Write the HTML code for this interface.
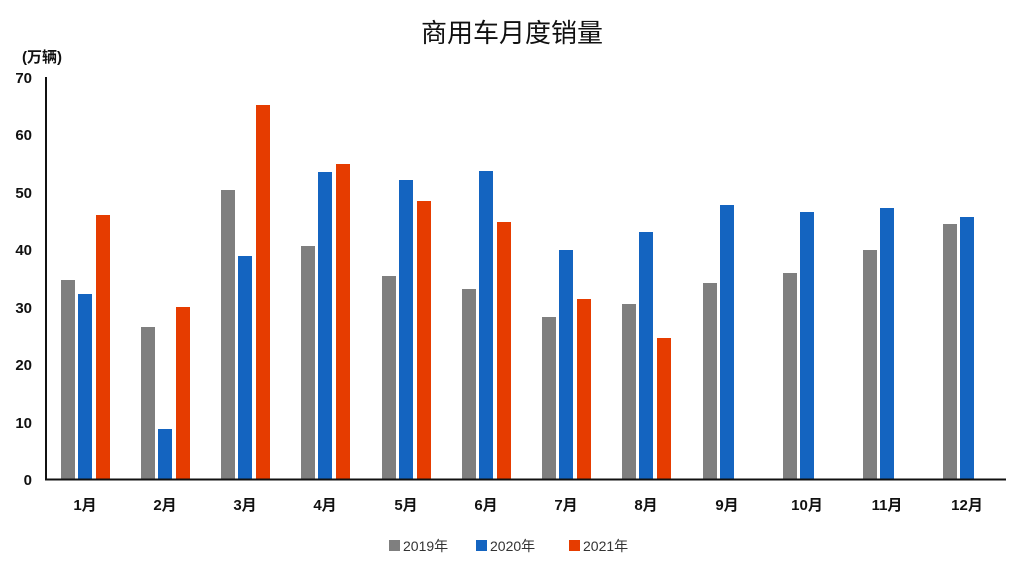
<!DOCTYPE html>
<html><head><meta charset="utf-8"><style>
body{margin:0;background:#fff;}
svg{display:block;font-family:"Liberation Sans","Noto Sans CJK SC",sans-serif;}
</style></head><body>
<svg width="1024" height="565" viewBox="0 0 1024 565">
<rect width="1024" height="565" fill="#fff"/>
<text x="512" y="42" font-size="26" text-anchor="middle" fill="#111">商用车月度销量</text>
<text x="22" y="62" font-size="15" font-weight="bold" fill="#111">(万辆)</text>
<g font-size="15" font-weight="bold" fill="#111" text-anchor="end">
<text x="32" y="83">70</text><text x="32" y="140">60</text><text x="32" y="198">50</text><text x="32" y="255">40</text><text x="32" y="313">30</text><text x="32" y="370">20</text><text x="32" y="428">10</text><text x="32" y="485">0</text>
</g>
<g id="bars">
<!-- gray -->
<g fill="#7f7f7f">
<rect x="61" y="280" width="14" height="199"/><rect x="141" y="327" width="14" height="152"/><rect x="221" y="190" width="14" height="289"/><rect x="301" y="246" width="14" height="233"/><rect x="382" y="276" width="14" height="203"/><rect x="462" y="289" width="14" height="190"/><rect x="542" y="317" width="14" height="162"/><rect x="622" y="304" width="14" height="175"/><rect x="703" y="283" width="14" height="196"/><rect x="783" y="273" width="14" height="206"/><rect x="863" y="250" width="14" height="229"/><rect x="943" y="224" width="14" height="255"/>
</g>
<g fill="#1464c0">
<rect x="78" y="294" width="14" height="185"/><rect x="158" y="429" width="14" height="50"/><rect x="238" y="256" width="14" height="223"/><rect x="318" y="172" width="14" height="307"/><rect x="399" y="180" width="14" height="299"/><rect x="479" y="171" width="14" height="308"/><rect x="559" y="250" width="14" height="229"/><rect x="639" y="232" width="14" height="247"/><rect x="720" y="205" width="14" height="274"/><rect x="800" y="212" width="14" height="267"/><rect x="880" y="208" width="14" height="271"/><rect x="960" y="217" width="14" height="262"/>
</g>
<g fill="#e63c00">
<rect x="96" y="215" width="14" height="264"/><rect x="176" y="307" width="14" height="172"/><rect x="256" y="105" width="14" height="374"/><rect x="336" y="164" width="14" height="315"/><rect x="417" y="201" width="14" height="278"/><rect x="497" y="222" width="14" height="257"/><rect x="577" y="299" width="14" height="180"/><rect x="657" y="338" width="14" height="141"/>
</g>
</g>
<line x1="46" y1="77" x2="46" y2="480" stroke="#111" stroke-width="2"/>
<line x1="45" y1="479.5" x2="1006" y2="479.5" stroke="#111" stroke-width="2"/>
<g font-size="15" font-weight="bold" fill="#111" text-anchor="middle">
<text x="85" y="510">1月</text><text x="165" y="510">2月</text><text x="245" y="510">3月</text><text x="325" y="510">4月</text><text x="406" y="510">5月</text><text x="486" y="510">6月</text><text x="566" y="510">7月</text><text x="646" y="510">8月</text><text x="727" y="510">9月</text><text x="807" y="510">10月</text><text x="887" y="510">11月</text><text x="967" y="510">12月</text>
</g>
<g font-size="14" fill="#333">
<rect x="389" y="540" width="11" height="11" fill="#7f7f7f"/><text x="403" y="551">2019年</text>
<rect x="476" y="540" width="11" height="11" fill="#1464c0"/><text x="490" y="551">2020年</text>
<rect x="569" y="540" width="11" height="11" fill="#e63c00"/><text x="583" y="551">2021年</text>
</g>
</svg>
</body></html>
